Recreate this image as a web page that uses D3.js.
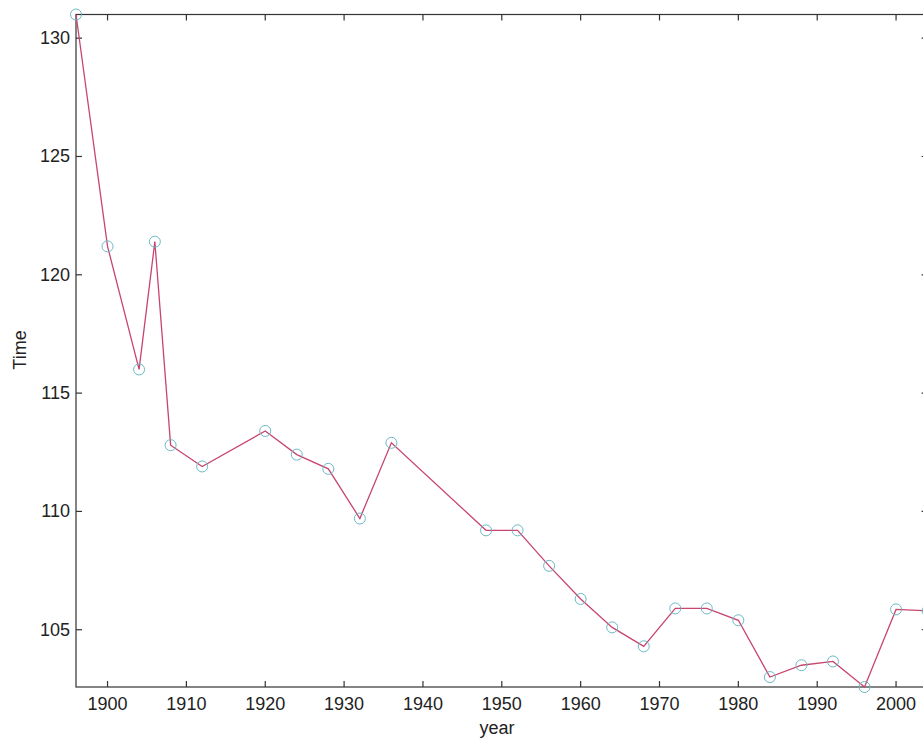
<!DOCTYPE html>
<html>
<head>
<meta charset="utf-8">
<script src="https://cdn.jsdelivr.net/npm/d3@7"></script>
<style>
    body { margin: 0; background: #fff; overflow: hidden; }
    svg { display: block; }
    .tick-label { font-family: "Liberation Sans", Arial, sans-serif; font-size: 18px; fill: #222; }
    .axis-title { font-family: "Liberation Sans", Arial, sans-serif; font-size: 18px; fill: #222; }
</style>
</head>
<body>
<svg id="chart" width="923" height="739"></svg>
<script>
// olympic winning times by year
const years = [1896, 1900, 1904, 1906, 1908, 1912, 1920, 1924, 1928, 1932, 1936,
    1948, 1952, 1956, 1960, 1964, 1968, 1972, 1976, 1980, 1984, 1988, 1992, 1996, 2000, 2004];
const times = [131.0, 121.2, 116.0, 121.4, 112.8, 111.9, 113.4, 112.4, 111.8, 109.7, 112.9,
    109.2, 109.2, 107.7, 106.3, 105.1, 104.3, 105.9, 105.9, 105.4, 103.0, 103.5, 103.66, 102.58, 105.86, 105.8];
const xTicks = [1900, 1910, 1920, 1930, 1940, 1950, 1960, 1970, 1980, 1990, 2000];
const yTicks = [105, 110, 115, 120, 125, 130];

const data = years.map((y, i) => ({ year: y, time: times[i] }));

const svg = d3.select("#chart");
const m = { left: 76, right: 927.6, top: 14.5, bottom: 687 };

const x = d3.scaleLinear()
    .domain(d3.extent(years))
    .range([m.left, m.right]);
const y = d3.scaleLinear()
    .domain(d3.extent(times))
    .range([m.bottom, m.top]);

const axisColor = "#333";
const tickLen = 6;

// box
svg.append("rect")
    .attr("x", m.left).attr("y", m.top)
    .attr("width", m.right - m.left).attr("height", m.bottom - m.top)
    .attr("fill", "none")
    .attr("stroke", axisColor)
    .attr("stroke-width", 1.2);

// inward ticks, all four sides
const g = svg.append("g").attr("stroke", axisColor).attr("stroke-width", 1.2);
xTicks.forEach(t => {
    g.append("line").attr("x1", x(t)).attr("x2", x(t)).attr("y1", m.bottom).attr("y2", m.bottom - tickLen);
    g.append("line").attr("x1", x(t)).attr("x2", x(t)).attr("y1", m.top).attr("y2", m.top + tickLen);
});
yTicks.forEach(t => {
    g.append("line").attr("x1", m.left).attr("x2", m.left + tickLen).attr("y1", y(t)).attr("y2", y(t));
    g.append("line").attr("x1", m.right).attr("x2", m.right - tickLen).attr("y1", y(t)).attr("y2", y(t));
});

svg.selectAll(".xlab")
    .data(xTicks)
    .enter().append("text")
    .attr("class", "tick-label")
    .attr("x", d => x(d))
    .attr("y", m.bottom + 23)
    .attr("text-anchor", "middle")
    .text(d => d);

svg.selectAll(".ylab")
    .data(yTicks)
    .enter().append("text")
    .attr("class", "tick-label")
    .attr("x", m.left - 6)
    .attr("y", d => y(d) + 6)
    .attr("text-anchor", "end")
    .text(d => d);

svg.append("text")
    .attr("class", "axis-title")
    .attr("x", 497)
    .attr("y", 734)
    .attr("text-anchor", "middle")
    .text("year");

svg.append("text")
    .attr("class", "axis-title")
    .attr("transform", "translate(26, 350) rotate(-90)")
    .attr("text-anchor", "middle")
    .text("Time");

const line = d3.line()
    .x(d => x(d.year))
    .y(d => y(d.time));

svg.append("path")
    .datum(data)
    .attr("d", line)
    .attr("fill", "none")
    .attr("stroke", "#c8456e")
    .attr("stroke-width", 1.3);

svg.selectAll(".pt")
    .data(data)
    .enter().append("circle")
    .attr("cx", d => x(d.year))
    .attr("cy", d => y(d.time))
    .attr("r", 5.5)
    .attr("fill", "none")
    .attr("stroke", "#6bb9c6")
    .attr("stroke-width", 1);
</script>
</body>
</html>
